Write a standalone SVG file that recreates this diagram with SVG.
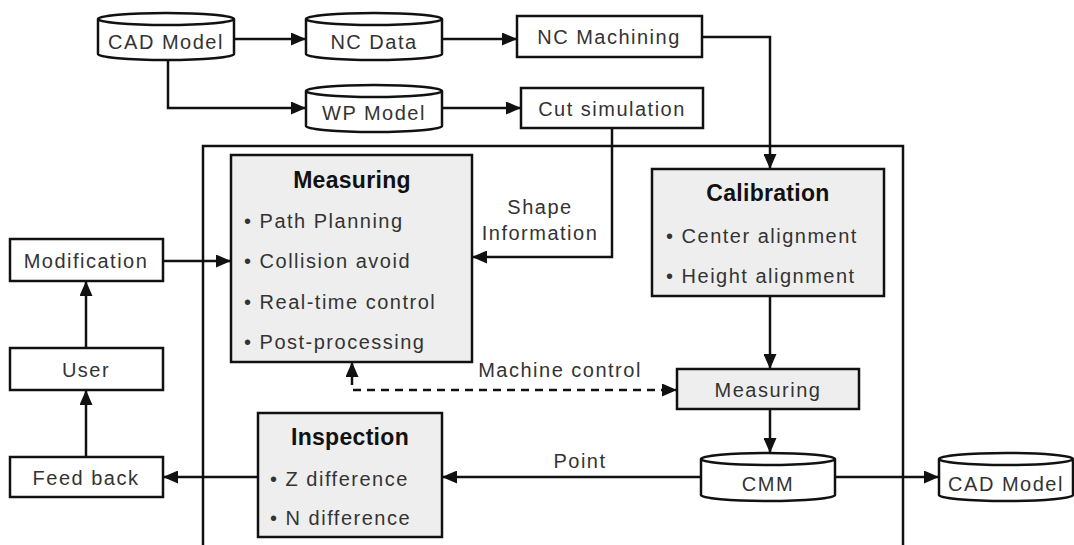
<svg xmlns="http://www.w3.org/2000/svg" width="1074" height="545" viewBox="0 0 1074 545">
<defs>
<style>
.box{fill:#fff;stroke:#111;stroke-width:2.5}
.gbox{fill:#eeeeee;stroke:#111;stroke-width:2.5}
.cyl{fill:#fff;stroke:#111;stroke-width:2.5}
.ln{fill:none;stroke:#111;stroke-width:2.5}
.t{font-family:"Liberation Sans",Arial,sans-serif;font-size:20px;letter-spacing:1.5px;fill:#333}
.c{text-anchor:middle}
.h{font-family:"Liberation Sans",Arial,sans-serif;font-size:23px;font-weight:bold;letter-spacing:0.3px;fill:#111;text-anchor:middle}
</style>
<marker id="ah" viewBox="0 0 15 13" refX="14" refY="6.5" markerWidth="15" markerHeight="13" markerUnits="userSpaceOnUse" orient="auto-start-reverse">
<path d="M0,0 L15,6.5 L0,13 Z" fill="#111"/>
</marker>
</defs>
<rect width="1074" height="545" fill="#fff"/>
<rect x="203" y="146" width="700" height="430" class="ln"/>
<g id="connectors">
<line x1="234" y1="39" x2="305" y2="39" class="ln" marker-end="url(#ah)"/>
<line x1="442" y1="39" x2="516" y2="39" class="ln" marker-end="url(#ah)"/>
<polyline points="168,60 168,108 305,108" class="ln" marker-end="url(#ah)"/>
<line x1="442" y1="108" x2="520" y2="108" class="ln" marker-end="url(#ah)"/>
<polyline points="702,37 770,37 770,168" class="ln" marker-end="url(#ah)"/>
<polyline points="612,128 612,257 473,257" class="ln" marker-end="url(#ah)"/>
<line x1="163" y1="261" x2="230" y2="261" class="ln" marker-end="url(#ah)"/>
<line x1="86" y1="348" x2="86" y2="282" class="ln" marker-end="url(#ah)"/>
<line x1="86" y1="457" x2="86" y2="391" class="ln" marker-end="url(#ah)"/>
<line x1="258" y1="477" x2="164" y2="477" class="ln" marker-end="url(#ah)"/>
<line x1="701" y1="477" x2="443" y2="477" class="ln" marker-end="url(#ah)"/>
<line x1="835" y1="477" x2="938" y2="477" class="ln" marker-end="url(#ah)"/>
<line x1="770" y1="296" x2="770" y2="368" class="ln" marker-end="url(#ah)"/>
<line x1="770" y1="409" x2="770" y2="452" class="ln" marker-end="url(#ah)"/>
<polyline points="352,363 352,390 676,390" class="ln" stroke-dasharray="8,6" marker-start="url(#ah)" marker-end="url(#ah)"/>
<text x="540" y="214" class="t c">Shape</text>
<text x="540" y="240" class="t c">Information</text>
<text x="560" y="377" class="t c">Machine control</text>
<text x="580" y="468" class="t c">Point</text>
</g>
<g id="cad1">
<path d="M98,19 A68,6 0 0 1 234,19 V54 A68,6 0 0 1 98,54 Z M98,19 A68,6 0 0 0 234,19" class="cyl"/>
<text x="166" y="49" class="t c">CAD Model</text>
</g>
<g id="ncdata">
<path d="M306,19 A68,6 0 0 1 442,19 V54 A68,6 0 0 1 306,54 Z M306,19 A68,6 0 0 0 442,19" class="cyl"/>
<text x="374" y="49" class="t c">NC Data</text>
</g>
<g id="wpmodel">
<path d="M306,91 A68,6 0 0 1 442,91 V126 A68,6 0 0 1 306,126 Z M306,91 A68,6 0 0 0 442,91" class="cyl"/>
<text x="374" y="120" class="t c">WP Model</text>
</g>
<g id="ncmachining">
<rect x="517" y="16" width="185" height="41" class="box"/>
<text x="609" y="44" class="t c">NC Machining</text>
</g>
<g id="cutsim">
<rect x="521" y="88" width="182" height="40" class="box"/>
<text x="612" y="116" class="t c">Cut simulation</text>
</g>
<g id="measuring-main">
<rect x="231" y="155" width="241" height="207" class="gbox"/>
<text x="352" y="188" class="h">Measuring</text>
<text x="244" y="228" class="t">• Path Planning</text>
<text x="244" y="268" class="t">• Collision avoid</text>
<text x="244" y="309" class="t">• Real-time control</text>
<text x="244" y="349" class="t">• Post-processing</text>
</g>
<g id="calibration">
<rect x="652" y="169" width="232" height="127" class="gbox"/>
<text x="768" y="201" class="h">Calibration</text>
<text x="666" y="243" class="t">• Center alignment</text>
<text x="666" y="283" class="t">• Height alignment</text>
</g>
<g id="measuring-small">
<rect x="677" y="369" width="182" height="40" class="gbox"/>
<text x="768" y="397" class="t c">Measuring</text>
</g>
<g id="cmm">
<path d="M701,459 A67,6 0 0 1 835,459 V495 A67,6 0 0 1 701,495 Z M701,459 A67,6 0 0 0 835,459" class="cyl"/>
<text x="768" y="491" class="t c">CMM</text>
</g>
<g id="cad2">
<path d="M939,459 A67,6 0 0 1 1073,459 V495 A67,6 0 0 1 939,495 Z M939,459 A67,6 0 0 0 1073,459" class="cyl"/>
<text x="1006" y="491" class="t c">CAD Model</text>
</g>
<g id="inspection">
<rect x="258" y="413" width="184" height="124" class="gbox"/>
<text x="350" y="445" class="h">Inspection</text>
<text x="270" y="486" class="t">• Z difference</text>
<text x="270" y="525" class="t">• N difference</text>
</g>
<g id="modification">
<rect x="10" y="239" width="153" height="42" class="box"/>
<text x="86" y="268" class="t c">Modification</text>
</g>
<g id="user">
<rect x="10" y="348" width="153" height="42" class="box"/>
<text x="86" y="377" class="t c">User</text>
</g>
<g id="feedback">
<rect x="10" y="457" width="153" height="40" class="box"/>
<text x="86" y="485" class="t c">Feed back</text>
</g>
</svg>
